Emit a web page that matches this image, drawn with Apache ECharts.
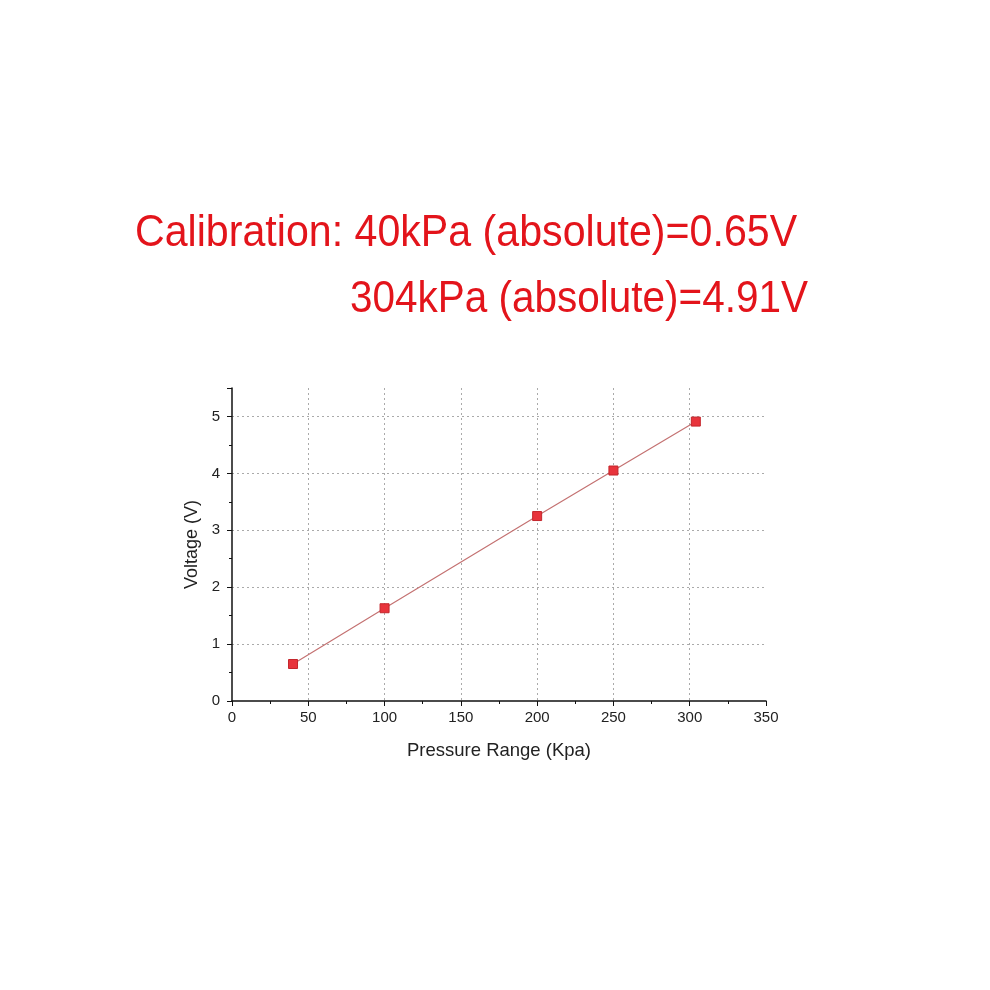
<!DOCTYPE html>
<html><head><meta charset="utf-8">
<script src="https://cdn.jsdelivr.net/npm/echarts@6/dist/echarts.min.js"></script>
<style>html,body{margin:0;padding:0;background:#fff}#c{width:990px;height:990px}</style>
</head><body><div id="c"></div>
<script>
const titleLines = ["Calibration: 40kPa (absolute)=0.65V", "304kPa (absolute)=4.91V"];
const pressure = [40, 100, 200, 250, 304];
const voltage = [0.65, 1.63, 3.25, 4.05, 4.91];
const xName = "Pressure Range (Kpa)";
const yName = "Voltage (V)";

const chart = echarts.init(document.getElementById('c'), null, {renderer: 'canvas'});
const font = 'Liberation Sans, Arial, sans-serif';
chart.setOption({
  animation: false,
  backgroundColor: '#fff',
  graphic: [
    {type: 'text', x: 135, y: 212, scaleX: 0.935, style: {text: titleLines[0], font: '44px "Liberation Sans", Arial, sans-serif', fill: '#e3141b'}},
    {type: 'text', x: 350, y: 278, scaleX: 0.92, style: {text: titleLines[1], font: '44px "Liberation Sans", Arial, sans-serif', fill: '#e3141b'}}
  ],
  grid: {left: 232, top: 388, right: 224, bottom: 289, containLabel: false},
  xAxis: {
    type: 'value', min: 0, max: 350, interval: 50,
    name: xName, nameLocation: 'middle', nameGap: 40,
    nameTextStyle: {fontFamily: font, fontSize: 18.5, color: '#222'},
    axisLine: {show: true, lineStyle: {color: '#111', width: 1.5}},
    axisTick: {show: true, length: 5, lineStyle: {color: '#111'}},
    minorTick: {show: true, splitNumber: 2, length: 3, lineStyle: {color: '#111'}},
    axisLabel: {fontFamily: font, fontSize: 15, color: '#222', margin: 9},
    splitLine: {show: true, showMinLine: false, showMaxLine: false, lineStyle: {color: '#aaa', type: [2, 3], width: 1}}
  },
  yAxis: {
    type: 'value', min: 0, max: 5.5, interval: 1,
    name: yName, nameLocation: 'middle', nameGap: 28, nameRotate: 90,
    nameTextStyle: {fontFamily: font, fontSize: 18, color: '#222'},
    axisLine: {show: true, lineStyle: {color: '#111', width: 1.5}},
    axisTick: {show: true, length: 5, lineStyle: {color: '#111'}},
    minorTick: {show: true, splitNumber: 2, length: 3, lineStyle: {color: '#111'}},
    axisLabel: {fontFamily: font, fontSize: 15, color: '#222', margin: 12,
      formatter: v => (Number.isInteger(v) ? String(v) : '')},
    splitLine: {show: true, showMinLine: false, showMaxLine: false, lineStyle: {color: '#aaa', type: [2, 3], width: 1}}
  },
  series: [{
    type: 'line',
    data: pressure.map((p, i) => [p, voltage[i]]),
    symbol: 'rect', symbolSize: 9,
    lineStyle: {color: '#c47272', width: 1.2},
    itemStyle: {color: '#e8343c', borderColor: '#c4262c', borderWidth: 1}
  }]
});
</script></body></html>
